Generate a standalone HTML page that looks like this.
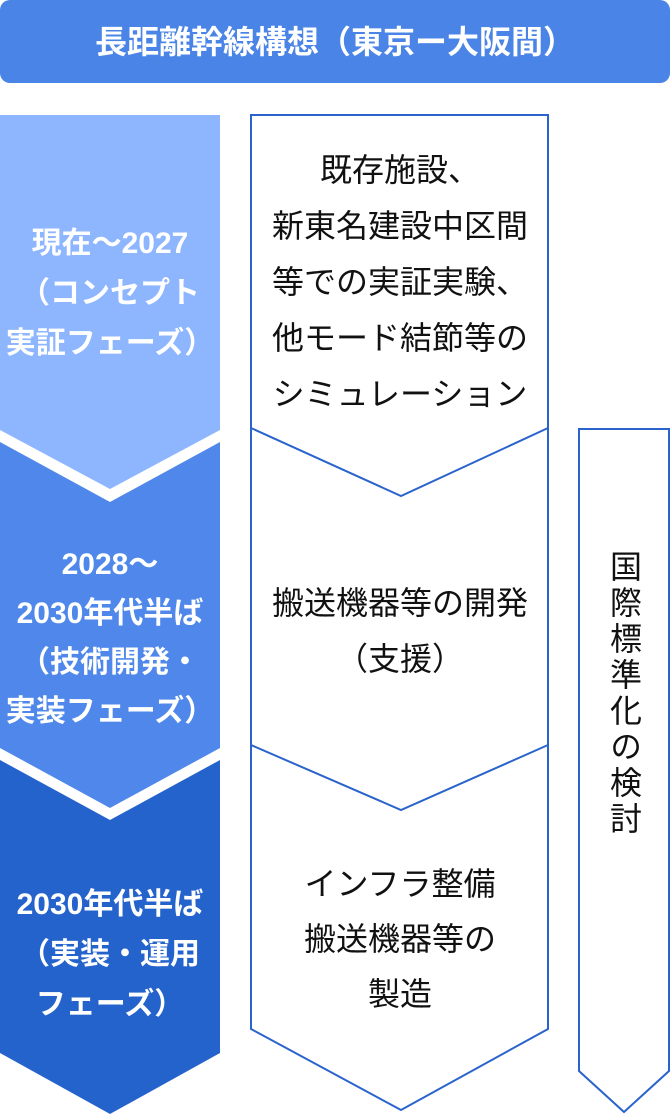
<!DOCTYPE html>
<html><head><meta charset="utf-8"><style>
body{margin:0;width:670px;height:1114px;background:#fff;position:relative;overflow:hidden;font-family:"Liberation Sans","Noto Sans CJK JP",sans-serif}
.t{position:absolute;text-align:center;white-space:nowrap}
.w{color:#fff;font-weight:bold;font-size:30px}
.k{color:#111;font-size:32px}
</style></head><body>
<svg width="670" height="1114" style="position:absolute;left:0;top:0">
<rect x="0" y="0" width="670" height="83" rx="10" fill="#4a84e6"/>
<polygon points="0,115 220,115 220,430 110,489 0,430" fill="#8db6ff"/>
<polygon points="0,442 110,502 220,442 220,748 110,808 0,748" fill="#4f88ea"/>
<polygon points="0,760 110,820 220,760 220,1053 110,1114 0,1053" fill="#2563cc"/>
<g fill="none" stroke="#2a63cc" stroke-width="2">
<polygon points="251,115 548,115 548,1029 401,1110 251,1029"/>
<polyline points="251,428 401,496 548,428"/>
<polyline points="251,745 401,810 548,745"/>
<polygon points="579,429 669,429 669,1071 624,1112 579,1071"/>
</g>
</svg>
<div class="t w" style="left:0;width:670px;top:22px;font-size:32px;line-height:40px">長距離幹線構想（東京ー大阪間）</div>
<div class="t w" style="left:0;width:220px;top:219px;line-height:50px">現在～2027<br>（コンセプト<br>実証フェーズ）</div>
<div class="t w" style="left:0;width:220px;top:540px;line-height:49px">2028～<br>2030年代半ば<br>（技術開発・<br>実装フェーズ）</div>
<div class="t w" style="left:0;width:220px;top:880px;line-height:50px">2030年代半ば<br>（実装・運用<br>フェーズ）</div>
<div class="t k" style="left:251px;width:298px;top:142px;line-height:56px">既存施設、<br>新東名建設中区間<br>等での実証実験、<br>他モード結節等の<br>シミュレーション</div>
<div class="t k" style="left:251px;width:298px;top:575px;line-height:56px">搬送機器等の開発<br>（支援）</div>
<div class="t k" style="left:251px;width:298px;top:857px;line-height:55px">インフラ整備<br>搬送機器等の<br>製造</div>
<div style="position:absolute;left:604px;width:40px;top:550px;color:#111;font-size:32px;line-height:40px;letter-spacing:4px;writing-mode:vertical-rl;white-space:nowrap">国際標準化の検討</div>
</body></html>
